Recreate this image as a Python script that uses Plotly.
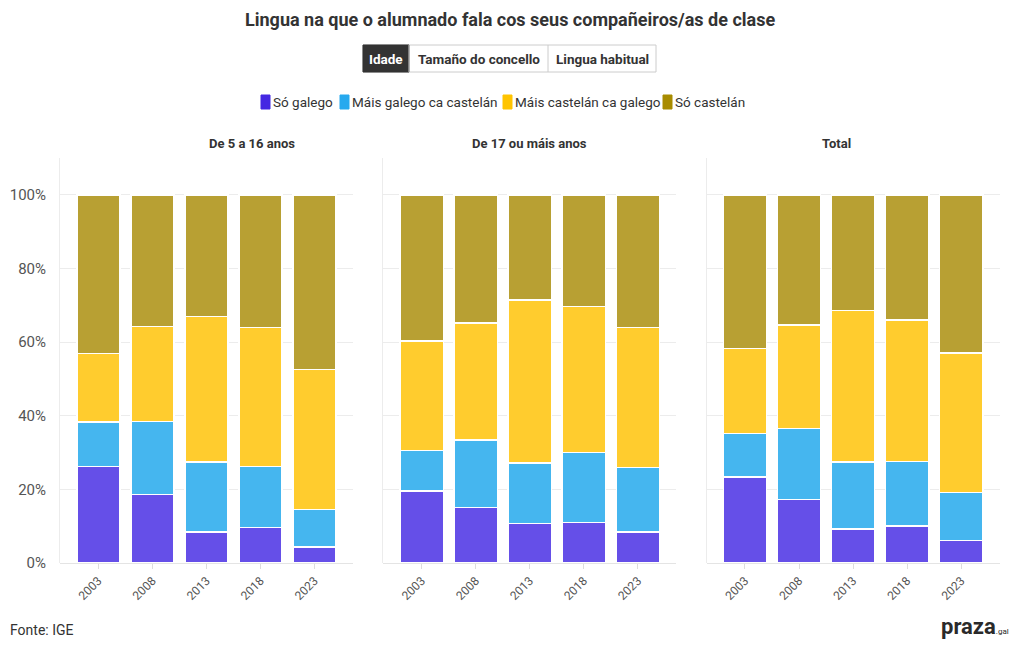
import plotly.graph_objects as go

years = ["2003", "2008", "2013", "2018", "2023"]
panels = ["De 5 a 16 anos", "De 17 ou máis anos", "Total"]
series = ["Só galego", "Máis galego ca castelán", "Máis castelán ca galego", "Só castelán"]

so_galego = [[26.2, 18.6, 8.4, 9.6, 4.4], [19.5, 15.1, 10.7, 11.0, 8.4], [23.4, 17.3, 9.3, 10.1, 6.1]]
mais_galego = [[12.1, 19.8, 19.0, 16.6, 10.2], [11.1, 18.3, 16.4, 19.0, 17.6], [11.8, 19.2, 18.1, 17.5, 13.0]]
mais_castelan = [[18.6, 25.9, 39.5, 37.7, 37.9], [29.7, 31.8, 44.3, 39.7, 38.0], [23.0, 28.2, 41.2, 38.4, 38.0]]
so_castelan = [[43.1, 35.7, 33.1, 36.1, 47.5], [39.7, 34.8, 28.6, 30.3, 36.0], [41.8, 35.3, 31.4, 34.0, 42.9]]

values = [so_galego, mais_galego, mais_castelan, so_castelan]
bar_colors = ["#654FE8", "#45B6EF", "#FFCC2E", "#B8A033"]
legend_colors = ["#4528E2", "#27A9EE", "#FFC400", "#A88C00"]

FONT = "Roboto"
W, H = 1020, 650
ml, mr, mt, mb = 60, 20, 158, 87
pw = W - ml - mr
ph = H - mt - mb

px = [(60, 353), (383.3, 676.3), (706.6, 999.6)]
domains = [((a - ml) / pw, (b - ml) / pw) for a, b in px]


def paper_x(v):
    return (v - ml) / pw


def paper_y(v):
    return (H - mb - v) / ph


fig = go.Figure()

for p in range(3):
    xa = "x" if p == 0 else f"x{p+1}"
    ya = "y" if p == 0 else f"y{p+1}"
    for s in range(4):
        fig.add_trace(go.Bar(
            x=years, y=[v / 100 for v in values[s][p]], name=series[s],
            marker=dict(color=bar_colors[s], line=dict(color="white", width=1.5)),
            xaxis=xa, yaxis=ya, showlegend=False,
            hovertemplate="%{x}: %{y:.1%}<extra>" + series[s] + "</extra>",
        ))

fig.update_layout(
    width=W, height=H,
    margin=dict(l=ml, r=mr, t=mt, b=mb, autoexpand=False),
    plot_bgcolor="white", paper_bgcolor="white",
    barmode="stack", bargap=0.2,
    font=dict(family=FONT, color="#444", size=13),
    showlegend=False,
)

for p in range(3):
    sfx = "" if p == 0 else str(p + 1)
    fig.layout["xaxis" + sfx] = dict(
        domain=list(domains[p]), anchor="y" + sfx, range=[-0.71, 4.71],
        type="category", tickangle=-45, ticks="outside", ticklen=5, tickcolor="#ddd",
        tickfont=dict(size=12, color="#555"), showgrid=False, showline=False, zeroline=False,
        automargin=False,
    )
    fig.layout["yaxis" + sfx] = dict(
        domain=[0, 1], anchor="x" + sfx, range=[0, 1.1],
        tickvals=[0, 0.2, 0.4, 0.6, 0.8, 1.0],
        ticktext=["0%", "20%", "40%", "60%", "80%", "100%"],
        showticklabels=(p == 0), tickfont=dict(size=15, color="#555"),
        gridcolor="#ececec", gridwidth=1, showline=True, linecolor="#ececec",
        zeroline=True, zerolinecolor="#e4e4e4", zerolinewidth=1, ticklabelstandoff=10,
        automargin=False,
    )
    fig.add_annotation(text=f"<b>{panels[p]}</b>", xref="paper", yref="paper",
                       x=(domains[p][0] + domains[p][1]) / 2, y=paper_y(143),
                       showarrow=False, font=dict(size=13, color="#333"), yanchor="middle")

fig.add_annotation(text="<b>Lingua na que o alumnado fala cos seus compañeiros/as de clase</b>",
                   xref="paper", yref="paper", x=paper_x(510), y=paper_y(20), showarrow=False,
                   font=dict(size=18, color="#333"), yanchor="middle")

# buttons
fig.add_shape(type="rect", xref="paper", yref="paper",
              x0=paper_x(363), x1=paper_x(656), y0=paper_y(72), y1=paper_y(45),
              fillcolor="white", line=dict(color="#cccccc", width=1), layer="above")
btns = [("Idade", 363, 409, True), ("Tamaño do concello", 409, 548, False), ("Lingua habitual", 548, 656, False)]
for label, x0, x1, active in btns:
    if active:
        fig.add_shape(type="rect", xref="paper", yref="paper",
                      x0=paper_x(x0), x1=paper_x(x1), y0=paper_y(72), y1=paper_y(45),
                      fillcolor="#333333", line=dict(color="#333333", width=1), layer="above")
    else:
        fig.add_shape(type="line", xref="paper", yref="paper",
                      x0=paper_x(x0), x1=paper_x(x0), y0=paper_y(72), y1=paper_y(45),
                      line=dict(color="#cccccc", width=1), layer="above")
    fig.add_annotation(text=f"<b>{label}</b>", xref="paper", yref="paper",
                       x=paper_x((x0 + x1) / 2), y=paper_y(58.5), showarrow=False,
                       font=dict(size=13.5, color="white" if active else "#333"), yanchor="middle")

# legend (manual)
leg_pos = [261, 340, 503, 663]
for s in range(4):
    x0 = leg_pos[s]
    fig.add_shape(type="rect", xref="paper", yref="paper",
                  x0=paper_x(x0), x1=paper_x(x0 + 9), y0=paper_y(109), y1=paper_y(95),
                  fillcolor=legend_colors[s], line=dict(color=legend_colors[s], width=1), layer="above")
    fig.add_annotation(text=series[s], xref="paper", yref="paper",
                       x=paper_x(x0 + 10), y=paper_y(102), xanchor="left", yanchor="middle",
                       showarrow=False, font=dict(size=13.5, color="#333"))

fig.add_annotation(text="Fonte: IGE", xref="paper", yref="paper", x=paper_x(8), y=paper_y(630),
                   xanchor="left", yanchor="middle", showarrow=False, font=dict(size=14, color="#333"))
fig.add_annotation(text="<b>praza</b><span style='font-size:8px'>.gal</span>", xref="paper", yref="paper",
                   x=paper_x(1011), y=paper_y(626), xanchor="right", yanchor="middle", showarrow=False,
                   font=dict(size=22, color="#2a2a2a"))

fig.write_html("out.html", config={"displayModeBar": False},
               post_script="document.body.style.margin='0';")
